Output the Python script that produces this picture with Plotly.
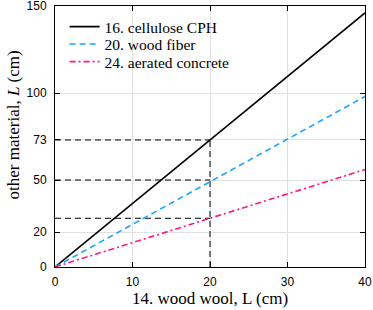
import plotly.graph_objects as go

# data
x_wool = [0, 40]
cellulose = [0, 146]
wood_fiber = [0, 98]
aerated = [0, 56]
names = ["16. cellulose CPH", "20. wood fiber", "24. aerated concrete"]
ref_x = 20
ref_levels = [73, 50, 28]
xticks = [0, 10, 20, 30, 40]
yticks = [0, 20, 50, 73, 100, 150]

serif = "Liberation Serif"
sans = "Liberation Sans"

fig = go.Figure()
# reference dashed lines
for lv in ref_levels:
    fig.add_trace(go.Scatter(x=[0, ref_x], y=[lv, lv], mode="lines",
                             line=dict(color="black", width=1, dash="6px,4px"),
                             showlegend=False, hoverinfo="skip"))
fig.add_trace(go.Scatter(x=[ref_x, ref_x], y=[0, max(ref_levels)], mode="lines",
                         line=dict(color="black", width=1, dash="6px,4px"),
                         showlegend=False, hoverinfo="skip"))

fig.add_trace(go.Scatter(x=x_wool, y=cellulose, mode="lines", name=names[0], legend="legend",
                         line=dict(color="black", width=1.6)))
fig.add_trace(go.Scatter(x=x_wool, y=wood_fiber, mode="lines", name=names[1], legend="legend2",
                         line=dict(color="rgb(25,165,255)", width=1.6, dash="6px,4px")))
fig.add_trace(go.Scatter(x=x_wool, y=aerated, mode="lines", name=names[2], legend="legend3",
                         line=dict(color="rgb(255,25,125)", width=1.6, dash="6px,3px,2px,3px")))

axis_common = dict(showline=True, linecolor="black", linewidth=1, mirror="ticks",
                   ticks="inside", ticklen=5, tickcolor="black", tickwidth=1,
                   showgrid=True, gridcolor="rgb(225,225,225)", gridwidth=1,
                   zeroline=False, automargin=False, ticklabeloverflow="allow",
                   tickfont=dict(family=sans, size=12, color="black"))

def leg(yc):
    return dict(x=0.031, y=yc, xanchor="left", yanchor="middle", bgcolor="rgba(0,0,0,0)",
                borderwidth=0, font=dict(family=serif, size=15.5, color="black"),
                itemwidth=30)

fig.update_layout(
    width=373, height=310,
    margin=dict(l=55, r=8, t=6, b=43),
    paper_bgcolor="white", plot_bgcolor="white",
    xaxis=dict(range=[0, 40], tickvals=xticks, ticklabelstandoff=4, **axis_common,
               title=dict(text="14. wood wool, L (cm)", font=dict(family=serif, size=17, color="black"), standoff=2)),
    yaxis=dict(range=[0, 150], tickvals=yticks, ticklabelstandoff=5, **axis_common),
    legend=leg(0.9195),
    legend2=leg(0.8525),
    legend3=leg(0.7854),
    showlegend=True,
    annotations=[dict(text="other material, <i>L</i> (cm)", textangle=-90,
                      xref="paper", yref="paper", x=-0.134, y=0.544,
                      xanchor="center", yanchor="middle", showarrow=False,
                      font=dict(family=serif, size=17, color="black"))],
)

fig.write_html("out.html", config={"displayModeBar": False},
               post_script="document.body.style.margin='0px';")
